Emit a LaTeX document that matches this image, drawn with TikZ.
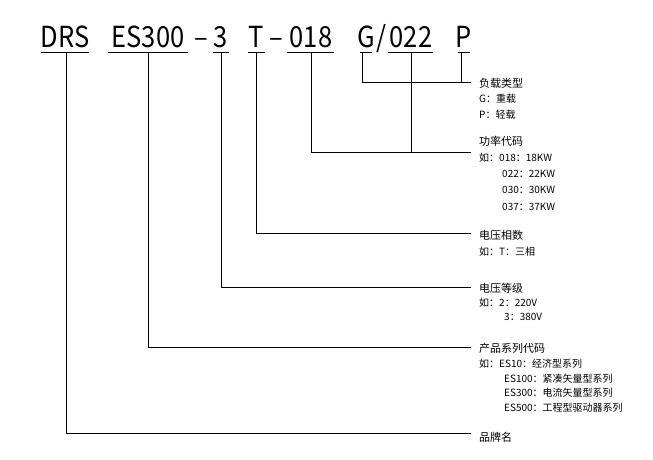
\documentclass[tikz,border=0pt]{standalone}
\usepackage{fontspec}
\setmainfont{Noto Sans CJK SC}
\begin{document}
\begin{tikzpicture}[x=1pt,y=-1pt,
  hd/.style={anchor=base,inner sep=0pt,font=\fontsize{29}{29}\selectfont,xscale=0.88},
  ln/.style={line width=0.8pt},
  ttl/.style={anchor=west,inner sep=0pt,font=\fontsize{11}{11}\selectfont},
  sm/.style={anchor=west,inner sep=0pt,font=\fontsize{10}{10}\selectfont}]
\useasboundingbox (0,0) rectangle (653,459);
\node[hd] (h1) at (65,47) {DRS};
\node[hd] (h2) at (148,47) {ES300};
\node[hd] (d1) at (201,47) {–};
\node[hd] (h3) at (221,47) {3};
\node[hd] (h4) at (256,47) {T};
\node[hd] (d2) at (276,47) {–};
\node[hd] (h5) at (311,47) {018};
\node[hd] (h6) at (366,47) {G};
\node[hd] (h6s) at (381,47) {/};
\node[hd] (h7) at (411,47) {022};
\node[hd] (h8) at (464,47) {P};
% underlines
\draw[ln] (41,52) -- (89,52); \draw[ln] (108,52) -- (188,52);
\draw[ln] (213,52) -- (229,52); \draw[ln] (248,52) -- (265,52);
\draw[ln] (287,52) -- (334,52); \draw[ln] (360,52) -- (372,52);
\draw[ln] (388,52) -- (433,52); \draw[ln] (458,52) -- (470,52);
% connectors
\coordinate (e1) at (471,82); \coordinate (e2) at (471,152);
\coordinate (e3) at (471,233); \coordinate (e4) at (471,287);
\coordinate (e5) at (471,347); \coordinate (e6) at (471,433);
\draw[ln] (362,52) |- (e1); \draw[ln] (461,52) -- (461,82);
\draw[ln] (311,52) |- (e2); \draw[ln] (411,52) -- (411,152);
\draw[ln] (256,52) |- (e3);
\draw[ln] (221,52) |- (e4);
\draw[ln] (148,52) |- (e5);
\draw[ln] (66,52) |- (e6);
% texts
\node[ttl] (t1) at (479,83) {负载类型};
\node[sm] (t1a) at (479,99) {G：重载};
\node[sm] (t1b) at (479,115) {P：轻载};
\node[ttl] (t2) at (479,141) {功率代码};
\node[sm] (t2a) at (479,158) {如：018：18KW};
\node[sm] (t2b) at (502,174) {022：22KW};
\node[sm] (t2c) at (502,190) {030：30KW};
\node[sm] (t2d) at (502,207) {037：37KW};
\node[ttl] (t3) at (479,235) {电压相数};
\node[sm] (t3a) at (479,252) {如：T：三相};
\node[ttl] (t4) at (479,288) {电压等级};
\node[sm] (t4a) at (479,303) {如：2：220V};
\node[sm] (t4b) at (504,317) {3：380V};
\node[ttl] (t5) at (479,348) {产品系列代码};
\node[sm] (t5a) at (479,364) {如：ES10：经济型系列};
\node[sm] (t5b) at (504,379) {ES100：紧凑矢量型系列};
\node[sm] (t5c) at (504,393) {ES300：电流矢量型系列};
\node[sm] (t5d) at (504,408) {ES500：工程型驱动器系列};
\node[ttl] (t6) at (479,437) {品牌名};
\end{tikzpicture}
\end{document}
